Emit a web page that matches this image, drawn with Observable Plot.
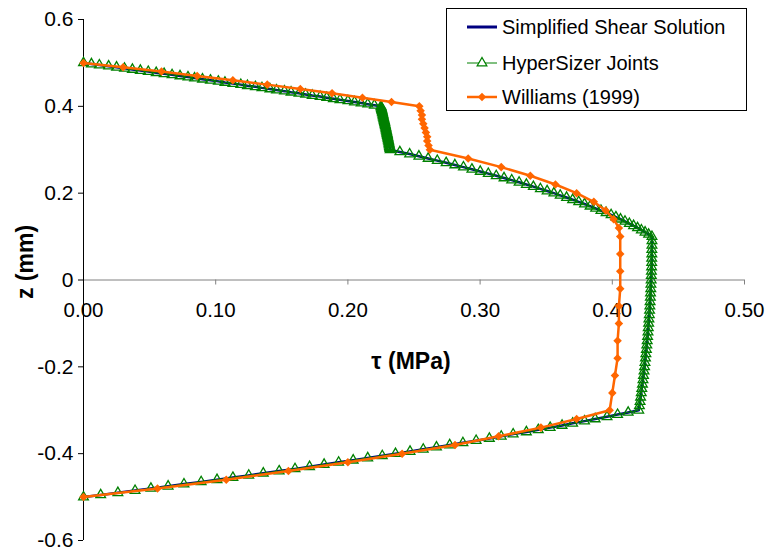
<!DOCTYPE html>
<html><head><meta charset="utf-8">
<script src="https://cdn.jsdelivr.net/npm/d3@7"></script>
<script src="https://cdn.jsdelivr.net/npm/@observablehq/plot@0.6"></script>
<style>
body{margin:0;background:#fff;}
#wrap{position:relative;width:766px;height:553px;font-family:Arial,"Liberation Sans",sans-serif;}
#legend{position:absolute;left:446px;top:8px;}
</style></head><body><div id="wrap"></div>
<script>
// ---- data (tau in MPa, z in mm) ----
// Simplified shear solution / HyperSizer joints (the two coincide at this resolution), layer by layer
const zA = [0.5,0.4975,0.495,0.4925,0.49,0.4875,0.485,0.4825,0.48,0.4775,0.475,0.4725,0.47,0.4675,0.465,0.4625,0.46,0.4575,0.455,0.4525,0.45,0.4475,0.445,0.4425,0.44,0.4375,0.435,0.4325,0.43,0.4275,0.425,0.4225,0.42,0.4175,0.415,0.4125,0.41,0.4075,0.405,0.4025,0.4];
const tauA = [0,0.006,0.012,0.019,0.025,0.031,0.037,0.043,0.049,0.055,0.061,0.067,0.073,0.079,0.084,0.090,0.096,0.102,0.107,0.113,0.119,0.124,0.130,0.135,0.141,0.146,0.152,0.157,0.163,0.168,0.173,0.179,0.184,0.189,0.194,0.200,0.205,0.210,0.215,0.220,0.225];
const zB = [0.3975,0.395,0.3925,0.39,0.3875,0.385,0.3825,0.38,0.3775,0.375,0.3725,0.37,0.3675,0.365,0.3625,0.36,0.3575,0.355,0.3525,0.35,0.3475,0.345,0.3425,0.34,0.3375,0.335,0.3325,0.33,0.3275,0.325,0.3225,0.32,0.3175,0.315,0.3125,0.31,0.3075,0.305,0.3025,0.3];
const tauB = [0.2252,0.2254,0.2256,0.2258,0.2260,0.2262,0.2264,0.2266,0.2267,0.2269,0.2271,0.2273,0.2275,0.2277,0.2279,0.2280,0.2282,0.2284,0.2286,0.2288,0.2289,0.2291,0.2293,0.2294,0.2296,0.2298,0.2299,0.2301,0.2303,0.2304,0.2306,0.2308,0.2309,0.2311,0.2312,0.2314,0.2315,0.2317,0.2318,0.2320];
const zC = [0.295,0.29,0.285,0.28,0.275,0.27,0.265,0.26,0.255,0.25,0.245,0.24,0.235,0.23,0.225,0.22,0.215,0.21,0.205,0.2,0.195,0.19,0.185,0.18,0.175,0.17,0.165,0.16,0.155,0.15,0.145,0.14,0.135,0.13,0.125,0.12,0.115,0.11,0.105,0.1];
const tauC = [0.2393,0.2467,0.2537,0.2607,0.2676,0.2743,0.2809,0.2874,0.2938,0.3001,0.3062,0.3122,0.3181,0.3239,0.3295,0.3350,0.3403,0.3456,0.3507,0.3558,0.3606,0.3654,0.3700,0.3746,0.3790,0.3832,0.3874,0.3914,0.3953,0.3991,0.4027,0.4062,0.4096,0.4129,0.4161,0.4191,0.4220,0.4248,0.4275,0.4300];
const zD = [0.09,0.08,0.07,0.06,0.05,0.04,0.03,0.02,0.01,0,-0.01,-0.02,-0.03,-0.04,-0.05,-0.06,-0.07,-0.08,-0.09,-0.1,-0.11,-0.12,-0.13,-0.14,-0.15,-0.16,-0.17,-0.18,-0.19,-0.2,-0.21,-0.22,-0.23,-0.24,-0.25,-0.26,-0.27,-0.28,-0.29,-0.3];
const tauD = [0.4300,0.4300,0.4299,0.4299,0.4298,0.4298,0.4297,0.4296,0.4295,0.4294,0.4292,0.4291,0.4289,0.4288,0.4286,0.4284,0.4282,0.4280,0.4277,0.4275,0.4272,0.4270,0.4267,0.4264,0.4261,0.4258,0.4254,0.4251,0.4247,0.4244,0.4240,0.4236,0.4232,0.4228,0.4223,0.4219,0.4214,0.4210,0.4205,0.4200];
const zE = [-0.305,-0.31,-0.315,-0.32,-0.325,-0.33,-0.335,-0.34,-0.345,-0.35,-0.355,-0.36,-0.365,-0.37,-0.375,-0.38,-0.385,-0.39,-0.395,-0.4,-0.405,-0.41,-0.415,-0.42,-0.425,-0.43,-0.435,-0.44,-0.445,-0.45,-0.455,-0.46,-0.465,-0.47,-0.475,-0.48,-0.485,-0.49,-0.495,-0.5];
const tauE = [0.412,0.404,0.396,0.387,0.379,0.370,0.362,0.353,0.344,0.335,0.325,0.316,0.307,0.297,0.287,0.277,0.267,0.257,0.247,0.236,0.226,0.215,0.204,0.193,0.182,0.171,0.160,0.148,0.136,0.125,0.113,0.101,0.089,0.076,0.064,0.051,0.039,0.026,0.013,0];

// Williams (1999)
const williamsZ = [0.5,0.49,0.48,0.47,0.46,0.45,0.44,0.43,0.42,0.41,0.40,0.39,0.38,0.37,0.36,0.35,0.34,0.33,0.32,0.31,0.30,0.28,0.26,0.24,0.22,0.20,0.18,0.16,0.14,0.12,0.10,0.06,0.02,-0.02,-0.06,-0.10,-0.14,-0.18,-0.22,-0.26,-0.30,-0.32,-0.34,-0.36,-0.38,-0.40,-0.42,-0.44,-0.46,-0.48,-0.50];
const williamsTau = [0,0.030,0.059,0.086,0.113,0.139,0.164,0.188,0.211,0.233,0.254,0.255,0.256,0.256,0.257,0.258,0.259,0.260,0.260,0.261,0.262,0.291,0.316,0.338,0.357,0.373,0.386,0.395,0.401,0.405,0.406,0.406,0.406,0.406,0.405,0.405,0.404,0.404,0.402,0.400,0.398,0.373,0.346,0.314,0.281,0.241,0.200,0.155,0.108,0.056,0];

const xTicks = [0, 0.1, 0.2, 0.3, 0.4, 0.5];
const yTicks = [-0.6, -0.4, -0.2, 0, 0.2, 0.4, 0.6];
const seriesNames = ["Simplified Shear Solution", "HyperSizer Joints", "Williams (1999)"];
const colors = {navy: "#000080", green: "#008000", orange: "#FF6600"};

// ---- build tables ----
const layers = [[zA, tauA], [zB, tauB], [zC, tauC], [zD, tauD], [zE, tauE]];
const solution = layers.flatMap(([zs, ts]) => zs.map((z, i) => ({z, tau: ts[i]})));
const williams = williamsZ.map((z, i) => ({z, tau: williamsTau[i]}));

const diamond = {draw(context, size) {
  const r = Math.sqrt(size / 2);
  context.moveTo(0, -r); context.lineTo(r, 0); context.lineTo(0, r); context.lineTo(-r, 0); context.closePath();
}};

const chart = Plot.plot({
  width: 766, height: 553,
  marginLeft: 83, marginRight: 22, marginTop: 19, marginBottom: 13,
  style: {fontFamily: "Arial, 'Liberation Sans', sans-serif", fontSize: "21px", background: "white", color: "black", overflow: "visible"},
  x: {domain: [0, 0.5], axis: null},
  y: {domain: [-0.6, 0.6], ticks: yTicks, tickFormat: d => d === 0 ? "0" : d.toFixed(1), tickSize: 5, tickPadding: 5, label: null},
  marks: [
    Plot.ruleY([0], {stroke: "#808080", strokeWidth: 1}),
    Plot.ruleX(xTicks, {x: d => d, y1: 0, y2: 0, insetBottom: -5, stroke: "#808080"}),
    Plot.text(xTicks, {x: d => d, y: 0, dy: 30, text: d => d.toFixed(2), fill: "black", fontSize: 20.5}),
    Plot.ruleX([0], {stroke: "black"}),
    Plot.line(solution, {x: "tau", y: "z", stroke: colors.navy, strokeWidth: 2.5}),
    Plot.line(solution, {x: "tau", y: "z", stroke: colors.green, strokeWidth: 1}),
    Plot.dot(solution, {x: "tau", y: "z", symbol: "triangle", r: 3.6, stroke: colors.green, fill: "none", strokeWidth: 1.3}),
    Plot.line(williams, {x: "tau", y: "z", stroke: colors.orange, strokeWidth: 2.5}),
    Plot.dot(williams, {x: "tau", y: "z", symbol: diamond, r: 3.4, fill: colors.orange, stroke: "none"})
  ]
});

const svg = d3.select(chart);
svg.append("text").attr("transform", "translate(25,262) rotate(-90)")
  .attr("text-anchor", "middle").attr("dy", "0.35em")
  .style("font-weight", "bold").style("font-size", "23px").text("z (mm)");
svg.append("text").attr("x", 411).attr("y", 361)
  .attr("text-anchor", "middle").attr("dy", "0.35em")
  .style("font-weight", "bold").style("font-size", "23px").text("τ (MPa)");

document.getElementById("wrap").appendChild(chart);

// ---- legend ----
const lg = d3.select("#wrap").append("svg").attr("id", "legend")
  .attr("width", 302).attr("height", 104)
  .style("font-family", "Arial, 'Liberation Sans', sans-serif").style("font-size", "20px");
lg.append("rect").attr("x", 0.5).attr("y", 0.5).attr("width", 300).attr("height", 102)
  .attr("fill", "white").attr("stroke", "black");
const rows = [19, 55, 89];
const styles = [
  {stroke: colors.navy, w: 3, marker: null},
  {stroke: colors.green, w: 1, marker: "tri"},
  {stroke: colors.orange, w: 2.5, marker: "dia"}
];
seriesNames.forEach((name, i) => {
  const y = rows[i], s = styles[i];
  lg.append("line").attr("x1", 21).attr("x2", 51).attr("y1", y).attr("y2", y)
    .attr("stroke", s.stroke).attr("stroke-width", s.w);
  if (s.marker === "tri") {
    lg.append("path").attr("d", d3.symbol(d3.symbolTriangle, 40)()).attr("transform", `translate(36,${y})`)
      .attr("fill", "white").attr("stroke", s.stroke).attr("stroke-width", 1.3);
  } else if (s.marker === "dia") {
    lg.append("path").attr("d", d3.symbol(diamond, 36)()).attr("transform", `translate(36,${y})`)
      .attr("fill", s.stroke);
  }
  lg.append("text").attr("x", 56).attr("y", y).attr("dy", "0.35em").attr("fill", "black").text(name);
});
</script>
</body></html>
